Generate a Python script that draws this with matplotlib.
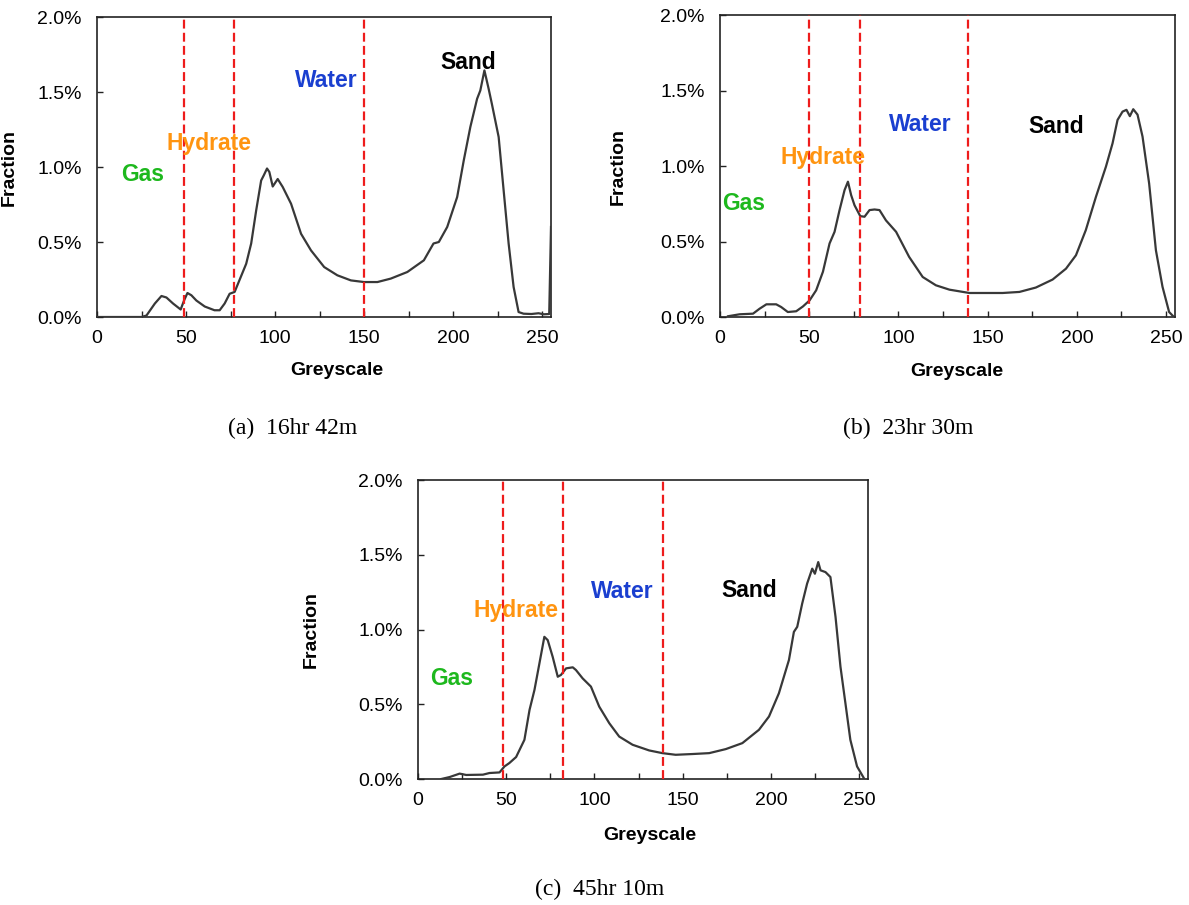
import matplotlib
matplotlib.use("Agg")
import matplotlib.pyplot as plt
from matplotlib.ticker import MultipleLocator, FuncFormatter

plt.rcParams['font.family'] = ['Liberation Sans', 'DejaVu Sans']

# ---------------- data ----------------
# (a) 16hr 42m
a_x = [0, 25, 27.8, 32.5, 36.2, 39, 42.7, 47, 48.9, 50.8, 53, 55.8, 60.5, 66, 68.9, 71.7, 74.5, 77.3,
       80, 83.8, 86.6, 89.4, 92.2, 93.7, 95.5, 96.8, 98.7, 101.5, 104.3, 109, 114.6, 120.2, 127.6,
       135, 142.6, 150, 157.5, 165, 174.3, 183.6, 189, 192, 196.7, 202.3, 206, 209.7, 213.5, 215.3,
       217.6, 220, 221.8, 225.6, 228.4, 231.2, 234, 236.8, 239.6, 244, 248, 251, 254, 255]
a_y = [0, 0, 0.01, 0.09, 0.14, 0.13, 0.09, 0.05, 0.11, 0.16, 0.145, 0.11, 0.07, 0.045, 0.045, 0.09,
       0.155, 0.167, 0.245, 0.355, 0.49, 0.71, 0.91, 0.945, 0.99, 0.967, 0.87, 0.92, 0.867, 0.755,
       0.555, 0.444, 0.333, 0.278, 0.244, 0.233, 0.233, 0.256, 0.3, 0.378, 0.49, 0.5, 0.6, 0.8,
       1.044, 1.267, 1.455, 1.51, 1.644, 1.52, 1.42, 1.2, 0.844, 0.49, 0.2, 0.033, 0.022, 0.02,
       0.025, 0.018, 0.02, 0.6]
a_lines = [49, 77, 150]

# (b) 23hr 30m
b_x = [4.5, 11, 18.5, 22.2, 26, 31.5, 34.3, 38, 42.7, 46.5, 50.2, 53.9, 57.7, 61.4, 64.2, 67, 69.8,
       71.7, 73.5, 75.4, 78.6, 81, 83.8, 86.6, 89.4, 93, 98.7, 106, 113.6, 121, 128.6, 139.8, 149,
       158.4, 167.8, 177, 186.4, 193.9, 199.5, 205, 210.7, 216.3, 220, 222.8, 225.6, 227.8, 229.7,
       231.6, 234, 236.8, 240.5, 244.3, 248, 251.7, 254]
b_y = [0.005, 0.018, 0.022, 0.055, 0.084, 0.084, 0.066, 0.033, 0.038, 0.07, 0.11, 0.177, 0.3, 0.487,
       0.564, 0.708, 0.84, 0.896, 0.807, 0.74, 0.668, 0.664, 0.708, 0.712, 0.708, 0.64, 0.564, 0.398,
       0.265, 0.21, 0.181, 0.159, 0.159, 0.159, 0.166, 0.195, 0.248, 0.32, 0.409, 0.575, 0.796, 0.996,
       1.15, 1.305, 1.36, 1.372, 1.33, 1.376, 1.34, 1.195, 0.885, 0.442, 0.2, 0.033, 0.005]
b_lines = [50, 78.5, 139]

# (c) 45hr 10m
c_x = [13.2, 17.9, 23.6, 27.3, 36.8, 40.5, 46.2, 49, 51.8, 55.6, 60.3, 63.2, 66, 68.8, 71.6, 73.5,
       76.3, 79.2, 81, 83.9, 87.7, 89.5, 93.3, 98, 102.7, 108.4, 114, 121.6, 131, 138.5, 146, 155.5,
       165, 174.4, 183.8, 193.2, 198.9, 204.5, 210.2, 213, 214.9, 217.7, 220.5, 223.4, 224.9, 226.8,
       228.1, 230.9, 233.7, 236.6, 239.4, 242.2, 245, 248.8, 252.6]
c_y = [0, 0.013, 0.036, 0.027, 0.029, 0.04, 0.044, 0.084, 0.107, 0.147, 0.262, 0.462, 0.596, 0.773,
       0.951, 0.929, 0.818, 0.684, 0.696, 0.74, 0.747, 0.729, 0.673, 0.618, 0.484, 0.373, 0.284,
       0.229, 0.191, 0.173, 0.162, 0.167, 0.173, 0.2, 0.24, 0.329, 0.418, 0.573, 0.796, 0.984, 1.018,
       1.173, 1.307, 1.407, 1.373, 1.451, 1.396, 1.384, 1.351, 1.084, 0.751, 0.507, 0.262, 0.084,
       0.007]
c_lines = [48, 82, 139]

phase_names = ["Gas", "Hydrate", "Water", "Sand"]
phase_colors = ["#1db81d", "#ff9410", "#1a3fd0", "#000000"]
a_label_pos = [(25.6, 0.947), (62.9, 1.16), (128.7, 1.58), (208.4, 1.70)]
b_label_pos = [(13.5, 0.754), (58.0, 1.053), (112.3, 1.272), (188.4, 1.259)]
c_label_pos = [(19.1, 0.673), (55.7, 1.129), (116.0, 1.251), (187.6, 1.262)]

captions = ["(a)  16hr 42m", "(b)  23hr 30m", "(c)  45hr 10m"]

# ---------------- layout ----------------
W, H = 1189, 905
fig = plt.figure(figsize=(W / 100, H / 100), dpi=100)

def px_axes(l, r, t, b):
    return fig.add_axes([l / W, (H - b) / H, (r - l) / W, (b - t) / H])

axes_px = [(97, 551, 17, 317), (720, 1175, 15, 317), (418, 868, 480, 779)]
ylab_x = [-0.174, -0.205, -0.218]
xlab_xy = [(0.528, -0.177), (0.52, -0.179), (0.516, -0.19)]
caption_px = [(293, 428), (908, 428), (600, 889)]

datasets = [(a_x, a_y, a_lines, a_label_pos),
            (b_x, b_y, b_lines, b_label_pos),
            (c_x, c_y, c_lines, c_label_pos)]

for i, (xs, ys, lines, lpos) in enumerate(datasets):
    ax = px_axes(*axes_px[i])
    ax.plot(xs, ys, color="#383838", lw=1.6, zorder=3)
    for v in lines:
        ax.axvline(v, color="#ee1c1c", lw=1.6, dashes=(4, 1.9), zorder=4)
    for name, col, (tx, ty) in zip(phase_names, phase_colors, lpos):
        ax.text(tx, ty, name, color=col, fontsize=16.5, fontweight="bold",
                ha="center", va="center", zorder=5)
    ax.set_xlim(0, 255)
    ax.set_ylim(0, 2.0)
    ax.xaxis.set_major_locator(MultipleLocator(50))
    ax.xaxis.set_minor_locator(MultipleLocator(25))
    ax.yaxis.set_major_locator(MultipleLocator(0.5))
    ax.yaxis.set_major_formatter(FuncFormatter(lambda v, p: f"{v:.1f}%"))
    ax.tick_params(axis="both", which="both", direction="in", length=4.5, width=1.0,
                   labelsize=14, color="#222222")
    ax.tick_params(axis="x", which="both", pad=9, top=False)
    ax.tick_params(axis="y", which="both", pad=11, right=False)
    for s in ax.spines.values():
        s.set_linewidth(1.2)
        s.set_color("#222222")
    ax.set_ylabel("Fraction", fontsize=14, fontweight="bold")
    ax.yaxis.set_label_coords(ylab_x[i], 0.5)
    ax.set_xlabel("Greyscale", fontsize=14, fontweight="bold")
    ax.xaxis.label.set_verticalalignment("center")
    ax.xaxis.set_label_coords(*xlab_xy[i])
    cx, cy = caption_px[i]
    fig.text(cx / W, 1 - cy / H, captions[i], fontsize=17, ha="center", va="center",
             family=["Liberation Serif", "DejaVu Serif"])

fig.savefig("out.png", dpi=100)
